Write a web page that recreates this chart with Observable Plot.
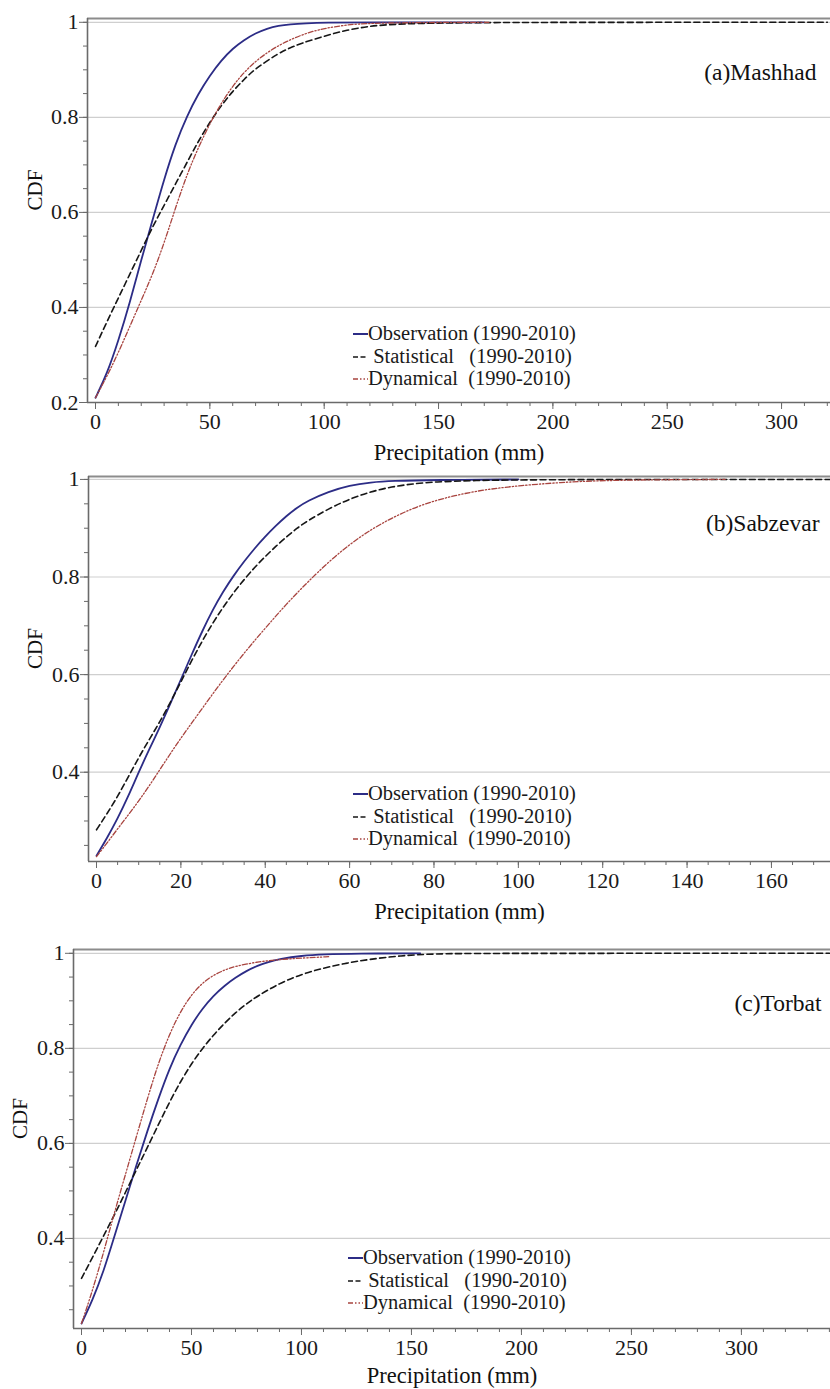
<!DOCTYPE html>
<html>
<head>
<meta charset="utf-8">
<script src="https://cdn.jsdelivr.net/npm/d3@7"></script>
<script src="https://cdn.jsdelivr.net/npm/@observablehq/plot@0.6"></script>
<style>
  body { margin: 0; background: #fff; }
  #root { position: relative; width: 830px; height: 1389px; overflow: hidden; background: #fff;
          font-family: "Liberation Serif", "Times New Roman", serif; color: #1a1a1a; }
  .panel { position: absolute; left: 0; }
  .legend { position: absolute; font-family: "Liberation Serif", "Times New Roman", serif;
            font-size: 20.5px; line-height: 22.5px; white-space: pre; color: #1a1a1a; }
  .legend .row { display: flex; align-items: center; height: 22.5px; }
  .legend svg { display: block; flex: none; }
  svg text { font-family: "Liberation Serif", "Times New Roman", serif; }
</style>
</head>
<body>
<div id="root"></div>
<script>
// ---------------- data ----------------
const seriesNames = ["Observation (1990-2010)", " Statistical   (1990-2010)", "Dynamical  (1990-2010)"];
const panelLabels = ["(a)Mashhad", "(b)Sabzevar", "(c)Torbat"];
const xLabel = "Precipitation (mm)";
const yLabel = "CDF";

const xTicksA = [0, 50, 100, 150, 200, 250, 300];
const xTicksB = [0, 20, 40, 60, 80, 100, 120, 140, 160];
const xTicksC = [0, 50, 100, 150, 200, 250, 300];
const yTicksA = [0.2, 0.4, 0.6, 0.8, 1];
const yTicksB = [0.4, 0.6, 0.8, 1];
const yTicksC = [0.4, 0.6, 0.8, 1];

// (a) Mashhad  [precipitation mm, CDF]
const mashhadObs = [[0,0.21],[5,0.26],[10,0.33],[15,0.41],[20,0.5],[25,0.585],[30,0.67],[35,0.745],[40,0.803],[45,0.85],[50,0.888],[55,0.92],[60,0.945],[65,0.963],[70,0.977],[75,0.987],[80,0.993],[85,0.996],[92,0.998],[100,0.9995],[120,1],[170,1]];
const mashhadStat = [[0,0.318],[5,0.37],[10,0.42],[15,0.47],[20,0.52],[25,0.57],[30,0.615],[35,0.66],[40,0.705],[45,0.75],[50,0.79],[55,0.825],[60,0.855],[65,0.88],[70,0.903],[80,0.935],[85,0.946],[90,0.956],[100,0.971],[110,0.984],[120,0.992],[130,0.996],[150,0.999],[200,1],[320,1]];
const mashhadDyn = [[0,0.21],[5,0.255],[10,0.305],[15,0.36],[20,0.415],[25,0.47],[30,0.535],[35,0.61],[40,0.68],[45,0.737],[50,0.787],[55,0.83],[60,0.866],[65,0.895],[70,0.918],[75,0.936],[80,0.951],[85,0.963],[90,0.973],[95,0.981],[100,0.987],[110,0.995],[120,0.998],[140,0.9995],[172,1]];

// (b) Sabzevar
const sabzevarObs = [[0,0.229],[2.5,0.265],[5,0.305],[7.5,0.35],[10,0.4],[12.5,0.447],[15,0.492],[17.5,0.54],[20,0.59],[22.5,0.64],[25,0.688],[27.5,0.732],[30,0.77],[32.5,0.803],[35,0.832],[37.5,0.859],[40,0.883],[42.5,0.905],[45,0.925],[47.5,0.942],[50,0.956],[55,0.975],[60,0.988],[65,0.994],[70,0.997],[80,0.999],[100,1]];
const sabzevarStat = [[0,0.282],[2.5,0.315],[5,0.35],[7.5,0.39],[10,0.43],[12.5,0.467],[15,0.503],[17.5,0.543],[20,0.585],[22.5,0.628],[25,0.668],[27.5,0.705],[30,0.738],[32.5,0.768],[35,0.795],[37.5,0.82],[40,0.842],[42.5,0.863],[45,0.882],[47.5,0.9],[50,0.915],[55,0.94],[60,0.96],[65,0.975],[70,0.985],[75,0.991],[80,0.995],[90,0.998],[100,0.999],[120,1],[174,1]];
const sabzevarDyn = [[0,0.227],[2.5,0.255],[5,0.284],[7.5,0.312],[10,0.341],[12.5,0.372],[15,0.405],[17.5,0.438],[20,0.47],[22.5,0.5],[25,0.53],[27.5,0.56],[30,0.589],[32.5,0.617],[35,0.644],[37.5,0.67],[40,0.695],[42.5,0.72],[45,0.744],[47.5,0.767],[50,0.789],[55,0.831],[60,0.867],[65,0.897],[70,0.921],[75,0.941],[80,0.956],[85,0.967],[90,0.976],[95,0.982],[100,0.987],[110,0.994],[120,0.998],[135,0.9995],[149,1]];

// (c) Torbat
const torbatObs = [[0,0.221],[5,0.27],[10,0.33],[15,0.405],[20,0.48],[25,0.555],[30,0.627],[35,0.695],[40,0.758],[45,0.808],[50,0.85],[55,0.884],[60,0.911],[65,0.932],[70,0.949],[75,0.963],[80,0.974],[85,0.982],[90,0.988],[100,0.995],[110,0.998],[125,0.9995],[154,1]];
const torbatStat = [[0,0.316],[5,0.36],[10,0.405],[15,0.45],[20,0.497],[25,0.545],[30,0.592],[35,0.64],[40,0.687],[45,0.73],[50,0.768],[55,0.8],[60,0.828],[65,0.853],[70,0.875],[75,0.894],[80,0.91],[90,0.937],[100,0.956],[110,0.969],[120,0.979],[130,0.987],[145,0.995],[160,0.999],[180,1],[340,1]];
const torbatDyn = [[0,0.221],[5,0.29],[10,0.37],[15,0.455],[20,0.535],[25,0.615],[30,0.695],[35,0.77],[40,0.83],[45,0.878],[50,0.913],[55,0.938],[60,0.954],[65,0.965],[70,0.973],[80,0.982],[90,0.987],[100,0.99],[113,0.993]];

// ---------------- styles & layout ----------------
const serif = "'Liberation Serif', 'Times New Roman', serif";
const seriesStyle = [
  { stroke: "#2c2c86", strokeWidth: 1.8, dash: null },
  { stroke: "#161616", strokeWidth: 1.6, dash: "6,3.5" },
  { stroke: "#a8443f", strokeWidth: 1.3, dash: "5,2,1.3,2,1.3,2" }
];

const panels = [
  { series: [mashhadObs, mashhadStat, mashhadDyn], xTicks: xTicksA, yTicks: yTicksA, label: panelLabels[0],
    top: 0, height: 465, mt: 18, mb: 63, ml: 87, xDomain: [-3.5, 321.4], yDomain: [0.2, 1.008], xMinor: 10,
    labelDx: -14, labelDy: 54, cdfDx: -52, xLabDy: 50, legendLeft: 352, legendTop: 322 },
  { series: [sabzevarObs, sabzevarStat, sabzevarDyn], xTicks: xTicksB, yTicks: yTicksB, label: panelLabels[1],
    top: 462, height: 460, mt: 14, mb: 61, ml: 88, xDomain: [-1.9, 174], yDomain: [0.217, 1.006], xMinor: 5,
    labelDx: -11, labelDy: 47, cdfDx: -53, xLabDy: 50, legendLeft: 352, legendTop: 782 },
  { series: [torbatObs, torbatStat, torbatDyn], xTicks: xTicksC, yTicks: yTicksC, label: panelLabels[2],
    top: 920, height: 469, mt: 29, mb: 61, ml: 73, xDomain: [-3.64, 340.5], yDomain: [0.2105, 1.008], xMinor: 10,
    labelDx: -9, labelDy: 54, cdfDx: -53, xLabDy: 47, legendLeft: 347, legendTop: 1246 }
];

const root = document.getElementById("root");
const axisColor = "#6a6a6a";

panels.forEach(p => {
  const xMinorTicks = d3.range(0, p.xDomain[1] + 1e-9, p.xMinor);
  const yMinorTicks = d3.range(0.2, 1.0001, 0.05).filter(v => v >= p.yDomain[0] - 1e-9);
  const lines = p.series.map((data, i) => Plot.line(data, {
    x: d => d[0], y: d => d[1], curve: "basis",
    stroke: seriesStyle[i].stroke, strokeWidth: seriesStyle[i].strokeWidth,
    strokeDasharray: seriesStyle[i].dash
  }));
  const chart = Plot.plot({
    width: 830, height: p.height,
    marginTop: p.mt, marginBottom: p.mb, marginLeft: p.ml, marginRight: 0,
    style: { background: "transparent", overflow: "visible", fontFamily: serif, fontSize: "22px", color: "#1a1a1a" },
    x: { domain: p.xDomain, label: null },
    y: { domain: p.yDomain, label: null },
    marks: [
      Plot.gridY(p.yTicks, { stroke: "#cfcfcf", strokeOpacity: 1, strokeWidth: 1.2 }),
      Plot.axisX(xMinorTicks, { tickSize: 4, tickFormat: () => "", stroke: axisColor, label: null }),
      Plot.axisX(p.xTicks, { tickSize: 7, tickPadding: 4, fontSize: 22, fontFamily: serif, fill: "#1a1a1a",
        tickFormat: d => String(d), stroke: axisColor, label: null }),
      Plot.axisY(yMinorTicks, { tickSize: 4, tickFormat: () => "", stroke: axisColor, label: null }),
      Plot.axisY(p.yTicks, { tickSize: 8, tickPadding: 1, fontSize: 22, fontFamily: serif, fill: "#1a1a1a",
        tickFormat: d => String(d), stroke: axisColor, label: null }),
      Plot.ruleY([p.yDomain[1]], { stroke: "#8c8c8c", strokeWidth: 2 }),
      Plot.ruleY([p.yDomain[0]], { stroke: axisColor, strokeWidth: 1.6 }),
      Plot.ruleX([p.xDomain[0]], { stroke: axisColor, strokeWidth: 1.6 }),
      ...lines,
      Plot.text([p.label], { text: d => d, frameAnchor: "top-right", dx: p.labelDx, dy: p.labelDy,
        textAnchor: "end", lineAnchor: "middle", fontSize: 23.5, fontFamily: serif, fill: "#111" }),
      Plot.text([yLabel], { text: d => d, frameAnchor: "left", dx: p.cdfDx, rotate: -90,
        lineAnchor: "middle", fontSize: 21, fontFamily: serif, fill: "#111" }),
      Plot.text([xLabel], { text: d => d, frameAnchor: "bottom", dy: p.xLabDy,
        lineAnchor: "middle", fontSize: 22.5, fontFamily: serif, fill: "#111" })
    ]
  });
  const wrap = document.createElement("div");
  wrap.className = "panel";
  wrap.style.top = p.top + "px";
  wrap.appendChild(chart);
  root.appendChild(wrap);

  // legend
  const leg = document.createElement("div");
  leg.className = "legend";
  leg.style.left = p.legendLeft + "px";
  leg.style.top = p.legendTop + "px";
  seriesNames.forEach((name, i) => {
    const row = document.createElement("div");
    row.className = "row";
    const s = seriesStyle[i];
    const sw = d3.create("svg").attr("width", 16).attr("height", 22);
    sw.append("line").attr("x1", 1).attr("x2", 16).attr("y1", 12).attr("y2", 12)
      .attr("stroke", s.stroke).attr("stroke-width", i === 0 ? 2 : 1.6)
      .attr("stroke-dasharray", i === 1 ? "5,2.5" : (i === 2 ? "5,2,1.5,2,1.5,2" : null));
    row.appendChild(sw.node());
    const t = document.createElement("span");
    t.textContent = name;
    row.appendChild(t);
    leg.appendChild(row);
  });
  root.appendChild(leg);
});
</script>
</body>
</html>
